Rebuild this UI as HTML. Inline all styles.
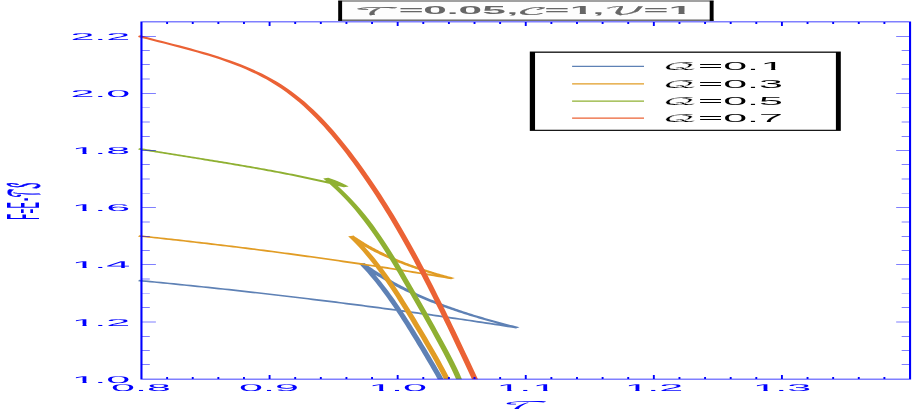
<!DOCTYPE html>
<html lang="en"><head><meta charset="utf-8"><title>F=E-TS vs T</title>
<style>html,body{margin:0;padding:0;background:#fff;overflow:hidden}svg{display:block}.s{font-family:"Liberation Sans","DejaVu Sans",sans-serif}.m{font-family:"DejaVu Math TeX Gyre","DejaVu Serif","Liberation Serif",serif}</style></head><body>
<svg width="913" height="409" viewBox="0 0 913 409"><rect width="913" height="409" fill="#fff"/><defs><clipPath id="c"><rect x="36.395" y="0" width="205.263" height="379.3"/></clipPath></defs><g transform="scale(3.8,1)" fill="none" stroke-width="1.56" stroke-linejoin="miter" stroke-miterlimit="3" stroke-linecap="butt" clip-path="url(#c)"><path stroke="#5E81B5" d="M36.447 280.5 L37.572 280.905 L38.696 281.312 L39.821 281.722 L40.945 282.135 L42.07 282.551 L43.194 282.97 L44.318 283.391 L45.442 283.815 L46.566 284.242 L47.69 284.672 L48.814 285.105 L49.937 285.541 L51.061 285.979 L52.185 286.421 L53.308 286.865 L54.432 287.312 L55.555 287.762 L56.678 288.214 L57.801 288.67 L58.924 289.128 L60.047 289.59 L61.17 290.054 L62.293 290.521 L63.416 290.991 L64.538 291.463 L65.661 291.939 L66.783 292.417 L67.906 292.899 L69.028 293.383 L70.15 293.87 L71.272 294.36 L72.394 294.853 L73.516 295.349 L74.638 295.848 L75.76 296.349 L76.882 296.854 L78.003 297.361 L79.125 297.871 L80.246 298.384 L81.367 298.9 L82.489 299.419 L83.61 299.941 L84.731 300.466 L85.852 300.994 L86.972 301.525 L88.093 302.058 L89.214 302.595 L90.334 303.134 L91.455 303.676 L92.575 304.222 L93.695 304.77 L94.815 305.321 L95.935 305.875 L97.055 306.432 L98.175 306.992 L99.295 307.555 L100.414 308.121 L101.534 308.69 L102.653 309.261 L103.772 309.836 L104.892 310.414 L106.011 310.994 L107.13 311.578 L108.249 312.165 L109.367 312.754 L110.486 313.347 L111.605 313.942 L112.723 314.541 L113.841 315.142 L114.96 315.747 L116.078 316.354 L117.196 316.964 L118.313 317.578 L119.431 318.194 L120.549 318.813 L121.666 319.436 L122.784 320.061 L123.901 320.689 L125.018 321.321 L126.136 321.955 L127.253 322.593 L128.369 323.233 L129.486 323.876 L130.603 324.523 L131.719 325.172 L132.836 325.825 L133.952 326.48 L135.068 327.139 L136.184 327.8 L135.701 327.338 L135.218 326.872 L134.735 326.404 L134.251 325.933 L133.768 325.458 L133.284 324.98 L132.801 324.499 L132.317 324.015 L131.833 323.526 L131.35 323.034 L130.866 322.539 L130.383 322.039 L129.899 321.535 L129.416 321.028 L128.933 320.515 L128.45 319.999 L127.967 319.478 L127.484 318.953 L127.002 318.423 L126.52 317.888 L126.038 317.348 L125.556 316.804 L125.075 316.254 L124.594 315.699 L124.113 315.139 L123.633 314.573 L123.153 314.002 L122.674 313.425 L122.195 312.843 L121.717 312.254 L121.239 311.66 L120.762 311.06 L120.285 310.453 L119.809 309.841 L119.334 309.222 L118.859 308.596 L118.384 307.964 L117.911 307.325 L117.438 306.68 L116.966 306.027 L116.494 305.368 L116.024 304.701 L115.554 304.027 L115.085 303.346 L114.617 302.658 L114.15 301.962 L113.683 301.258 L113.218 300.547 L112.753 299.827 L112.29 299.1 L111.827 298.365 L111.365 297.621 L110.905 296.87 L110.445 296.109 L109.987 295.341 L109.53 294.564 L109.073 293.778 L108.618 292.983 L108.164 292.18 L107.712 291.367 L107.26 290.545 L106.81 289.714 L106.361 288.874 L105.914 288.024 L105.467 287.165 L105.022 286.296 L104.579 285.417 L104.136 284.529 L103.695 283.63 L103.256 282.721 L102.818 281.802 L102.382 280.873 L101.947 279.934 L101.513 278.984 L101.081 278.023 L100.651 277.052 L100.222 276.07 L99.795 275.076 L99.37 274.072 L98.946 273.057 L98.524 272.03 L98.103 270.992 L97.685 269.943 L97.268 268.882 L96.853 267.809 L96.439 266.725 L96.028 265.629 L95.618 264.52 L95.211 263.4 L95.987 266.492 L96.74 269.585 L97.468 272.677 L98.173 275.769 L98.858 278.862 L99.523 281.954 L100.171 285.046 L100.801 288.138 L101.416 291.231 L102.018 294.323 L102.606 297.415 L103.182 300.508 L103.748 303.6 L104.304 306.692 L104.852 309.785 L105.391 312.877 L105.924 315.969 L106.45 319.062 L106.97 322.154 L107.485 325.246 L107.996 328.338 L108.503 331.431 L109.006 334.523 L109.506 337.615 L110.003 340.708 L110.497 343.8 L110.989 346.892 L111.478 349.985 L111.966 353.077 L112.45 356.169 L112.933 359.262 L113.412 362.354 L113.889 365.446 L114.363 368.538 L114.833 371.631 L115.3 374.723 L115.762 377.815 L116.22 380.908 L116.672 384"/><path stroke="#E19C24" d="M36.447 235.9 L37.381 236.268 L38.314 236.639 L39.247 237.012 L40.18 237.388 L41.112 237.766 L42.045 238.147 L42.978 238.531 L43.911 238.917 L44.843 239.305 L45.776 239.696 L46.708 240.09 L47.64 240.486 L48.573 240.885 L49.505 241.286 L50.437 241.689 L51.369 242.096 L52.301 242.504 L53.233 242.916 L54.164 243.33 L55.096 243.746 L56.028 244.165 L56.959 244.586 L57.891 245.01 L58.822 245.437 L59.753 245.866 L60.684 246.298 L61.615 246.732 L62.546 247.168 L63.477 247.608 L64.408 248.049 L65.339 248.494 L66.269 248.94 L67.2 249.39 L68.13 249.842 L69.061 250.296 L69.991 250.753 L70.921 251.212 L71.851 251.674 L72.781 252.139 L73.711 252.606 L74.641 253.076 L75.571 253.548 L76.501 254.023 L77.43 254.5 L78.36 254.98 L79.289 255.462 L80.218 255.947 L81.148 256.434 L82.077 256.924 L83.006 257.416 L83.935 257.911 L84.863 258.409 L85.792 258.909 L86.721 259.412 L87.649 259.917 L88.578 260.424 L89.506 260.935 L90.434 261.447 L91.362 261.963 L92.29 262.48 L93.218 263.001 L94.146 263.524 L95.074 264.049 L96.001 264.577 L96.929 265.107 L97.856 265.64 L98.784 266.176 L99.711 266.714 L100.638 267.255 L101.565 267.798 L102.492 268.344 L103.419 268.892 L104.345 269.443 L105.272 269.996 L106.198 270.552 L107.125 271.11 L108.051 271.671 L108.977 272.235 L109.903 272.801 L110.829 273.369 L111.755 273.94 L112.681 274.514 L113.606 275.09 L114.532 275.669 L115.457 276.25 L116.383 276.834 L117.308 277.42 L118.233 278.009 L119.158 278.6 L118.843 278.288 L118.528 277.973 L118.213 277.656 L117.898 277.336 L117.583 277.014 L117.268 276.69 L116.952 276.363 L116.637 276.033 L116.322 275.701 L116.007 275.366 L115.692 275.028 L115.376 274.687 L115.061 274.344 L114.746 273.997 L114.432 273.648 L114.117 273.296 L113.802 272.94 L113.488 272.582 L113.173 272.22 L112.859 271.855 L112.545 271.486 L112.231 271.115 L111.918 270.74 L111.604 270.361 L111.291 269.98 L110.978 269.594 L110.665 269.205 L110.353 268.813 L110.041 268.416 L109.729 268.016 L109.418 267.612 L109.106 267.205 L108.796 266.793 L108.485 266.378 L108.175 265.958 L107.865 265.535 L107.556 265.107 L107.247 264.676 L106.939 264.24 L106.631 263.8 L106.323 263.355 L106.016 262.907 L105.709 262.454 L105.403 261.996 L105.098 261.534 L104.793 261.068 L104.488 260.596 L104.184 260.121 L103.881 259.64 L103.578 259.155 L103.275 258.665 L102.974 258.17 L102.673 257.671 L102.372 257.166 L102.073 256.656 L101.774 256.142 L101.475 255.622 L101.177 255.097 L100.88 254.567 L100.584 254.032 L100.289 253.491 L99.994 252.945 L99.7 252.394 L99.407 251.837 L99.114 251.275 L98.822 250.707 L98.532 250.133 L98.242 249.554 L97.952 248.969 L97.664 248.379 L97.377 247.783 L97.09 247.18 L96.805 246.572 L96.52 245.958 L96.236 245.338 L95.953 244.712 L95.671 244.08 L95.39 243.442 L95.11 242.797 L94.831 242.147 L94.554 241.49 L94.277 240.826 L94.001 240.156 L93.726 239.48 L93.452 238.797 L93.18 238.108 L92.908 237.412 L92.638 236.709 L92.368 236 L93.393 239.795 L94.371 243.59 L95.307 247.385 L96.205 251.179 L97.066 254.974 L97.896 258.769 L98.696 262.564 L99.469 266.359 L100.218 270.154 L100.945 273.949 L101.654 277.744 L102.345 281.538 L103.021 285.333 L103.685 289.128 L104.336 292.923 L104.978 296.718 L105.611 300.513 L106.237 304.308 L106.857 308.103 L107.471 311.897 L108.081 315.692 L108.687 319.487 L109.289 323.282 L109.889 327.077 L110.485 330.872 L111.078 334.667 L111.668 338.462 L112.255 342.256 L112.838 346.051 L113.415 349.846 L113.988 353.641 L114.554 357.436 L115.112 361.231 L115.662 365.026 L116.202 368.821 L116.73 372.615 L117.244 376.41 L117.743 380.205 L118.224 384"/><path stroke="#8FB032" d="M36.447 148.7 L37.063 149.091 L37.678 149.481 L38.293 149.869 L38.908 150.256 L39.524 150.641 L40.139 151.026 L40.755 151.409 L41.371 151.791 L41.986 152.172 L42.602 152.552 L43.218 152.931 L43.833 153.31 L44.449 153.688 L45.065 154.065 L45.681 154.442 L46.297 154.818 L46.913 155.195 L47.529 155.57 L48.145 155.946 L48.761 156.322 L49.376 156.697 L49.992 157.073 L50.608 157.449 L51.224 157.825 L51.84 158.202 L52.456 158.579 L53.072 158.956 L53.688 159.334 L54.303 159.713 L54.919 160.092 L55.535 160.473 L56.15 160.854 L56.766 161.236 L57.381 161.619 L57.997 162.004 L58.612 162.389 L59.228 162.776 L59.843 163.165 L60.458 163.555 L61.073 163.946 L61.688 164.34 L62.303 164.735 L62.918 165.131 L63.533 165.53 L64.147 165.931 L64.762 166.334 L65.376 166.739 L65.991 167.146 L66.605 167.555 L67.219 167.967 L67.833 168.382 L68.446 168.799 L69.06 169.218 L69.674 169.641 L70.287 170.066 L70.9 170.494 L71.513 170.925 L72.126 171.36 L72.739 171.797 L73.352 172.238 L73.964 172.682 L74.576 173.129 L75.188 173.58 L75.8 174.034 L76.412 174.492 L77.024 174.954 L77.635 175.42 L78.246 175.89 L78.857 176.363 L79.468 176.841 L80.078 177.323 L80.688 177.809 L81.298 178.299 L81.908 178.794 L82.518 179.293 L83.127 179.797 L83.736 180.305 L84.345 180.818 L84.954 181.336 L85.562 181.859 L86.171 182.387 L86.779 182.92 L87.386 183.458 L87.994 184.002 L88.601 184.55 L89.207 185.105 L89.814 185.664 L90.42 186.229 L91.026 186.8 L90.97 186.682 L90.914 186.564 L90.857 186.447 L90.801 186.331 L90.744 186.215 L90.688 186.099 L90.631 185.984 L90.575 185.869 L90.518 185.755 L90.461 185.642 L90.404 185.529 L90.347 185.417 L90.29 185.305 L90.233 185.193 L90.176 185.082 L90.119 184.972 L90.062 184.862 L90.005 184.753 L89.947 184.644 L89.89 184.535 L89.832 184.427 L89.775 184.32 L89.717 184.213 L89.66 184.107 L89.602 184.001 L89.544 183.896 L89.487 183.791 L89.429 183.687 L89.371 183.583 L89.313 183.48 L89.255 183.377 L89.197 183.275 L89.139 183.174 L89.08 183.072 L89.022 182.972 L88.964 182.872 L88.905 182.772 L88.847 182.673 L88.789 182.574 L88.73 182.476 L88.671 182.379 L88.613 182.282 L88.554 182.185 L88.495 182.089 L88.436 181.994 L88.377 181.899 L88.318 181.804 L88.259 181.71 L88.2 181.617 L88.141 181.524 L88.082 181.431 L88.023 181.339 L87.964 181.248 L87.904 181.157 L87.845 181.067 L87.785 180.977 L87.726 180.888 L87.666 180.799 L87.606 180.71 L87.547 180.623 L87.487 180.535 L87.427 180.449 L87.367 180.362 L87.307 180.277 L87.247 180.191 L87.187 180.107 L87.127 180.022 L87.067 179.939 L87.007 179.856 L86.946 179.773 L86.886 179.691 L86.826 179.609 L86.765 179.528 L86.705 179.447 L86.644 179.367 L86.583 179.288 L86.523 179.209 L86.462 179.13 L86.401 179.052 L86.34 178.975 L86.279 178.898 L86.218 178.821 L86.157 178.745 L86.096 178.67 L86.035 178.595 L85.974 178.52 L85.912 178.446 L85.851 178.373 L85.789 178.3 L87.42 183.574 L88.943 188.849 L90.377 194.123 L91.729 199.397 L93.007 204.672 L94.218 209.946 L95.369 215.221 L96.466 220.495 L97.514 225.769 L98.52 231.044 L99.489 236.318 L100.425 241.592 L101.333 246.867 L102.217 252.141 L103.081 257.415 L103.929 262.69 L104.763 267.964 L105.586 273.238 L106.4 278.513 L107.208 283.787 L108.011 289.062 L108.81 294.336 L109.606 299.61 L110.4 304.885 L111.192 310.159 L111.982 315.433 L112.769 320.708 L113.552 325.982 L114.331 331.256 L115.103 336.531 L115.867 341.805 L116.619 347.079 L117.359 352.354 L118.082 357.628 L118.785 362.903 L119.464 368.177 L120.115 373.451 L120.735 378.726 L121.317 384"/><path stroke="#EB6235" d="M36.395 35.9 L37.825 37.349 L39.266 38.781 L40.717 40.203 L42.177 41.622 L43.645 43.044 L45.117 44.475 L46.594 45.923 L48.073 47.393 L49.554 48.893 L51.034 50.428 L52.512 52.005 L53.987 53.63 L55.457 55.311 L56.921 57.052 L58.377 58.862 L59.824 60.747 L61.26 62.712 L62.683 64.765 L64.093 66.911 L65.488 69.158 L66.866 71.512 L68.225 73.979 L69.565 76.566 L70.884 79.279 L72.18 82.125 L73.452 85.11 L74.698 88.239 L75.92 91.509 L77.117 94.913 L78.29 98.444 L79.441 102.096 L80.569 105.862 L81.676 109.736 L82.762 113.71 L83.828 117.779 L84.875 121.935 L85.904 126.173 L86.915 130.484 L87.91 134.864 L88.888 139.305 L89.85 143.801 L90.798 148.345 L91.732 152.93 L92.653 157.55 L93.562 162.2 L94.458 166.876 L95.343 171.578 L96.216 176.306 L97.078 181.059 L97.929 185.836 L98.769 190.636 L99.599 195.46 L100.419 200.306 L101.229 205.174 L102.029 210.062 L102.821 214.971 L103.603 219.899 L104.376 224.847 L105.142 229.812 L105.899 234.796 L106.648 239.796 L107.39 244.812 L108.124 249.845 L108.851 254.892 L109.572 259.953 L110.286 265.029 L110.995 270.117 L111.697 275.217 L112.394 280.329 L113.085 285.453 L113.772 290.586 L114.453 295.729 L115.13 300.881 L115.804 306.042 L116.473 311.21 L117.138 316.385 L117.801 321.567 L118.46 326.754 L119.116 331.946 L119.77 337.143 L120.422 342.343 L121.072 347.547 L121.721 352.753 L122.368 357.96 L123.014 363.169 L123.659 368.377 L124.303 373.586 L124.948 378.794 L125.592 384"/></g><g transform="scale(3.8,1)" fill="none" stroke="#0000ff"><path stroke="none" fill="#0000ff" fill-rule="evenodd" d="M36.947 21.45 H239.763 V379.55 H36.947 Z M37.5 22.2 H239.211 V378.8 H37.5 Z"/><path stroke-width="0.5" d="M43.978 379.1 v-2 M43.978 21.9 v2 M50.719 379.1 v-2 M50.719 21.9 v2 M57.461 379.1 v-2 M57.461 21.9 v2 M64.202 379.1 v-2 M64.202 21.9 v2 M70.943 379.1 v-4 M70.943 21.9 v4 M77.685 379.1 v-2 M77.685 21.9 v2 M84.426 379.1 v-2 M84.426 21.9 v2 M91.167 379.1 v-2 M91.167 21.9 v2 M97.909 379.1 v-2 M97.909 21.9 v2 M104.65 379.1 v-4 M104.65 21.9 v4 M111.391 379.1 v-2 M111.391 21.9 v2 M118.133 379.1 v-2 M118.133 21.9 v2 M124.874 379.1 v-2 M124.874 21.9 v2 M131.615 379.1 v-2 M131.615 21.9 v2 M138.357 379.1 v-4 M138.357 21.9 v4 M145.098 379.1 v-2 M145.098 21.9 v2 M151.839 379.1 v-2 M151.839 21.9 v2 M158.581 379.1 v-2 M158.581 21.9 v2 M165.322 379.1 v-2 M165.322 21.9 v2 M172.063 379.1 v-4 M172.063 21.9 v4 M178.804 379.1 v-2 M178.804 21.9 v2 M185.546 379.1 v-2 M185.546 21.9 v2 M192.287 379.1 v-2 M192.287 21.9 v2 M199.028 379.1 v-2 M199.028 21.9 v2 M205.77 379.1 v-4 M205.77 21.9 v4 M212.511 379.1 v-2 M212.511 21.9 v2 M219.252 379.1 v-2 M219.252 21.9 v2 M225.994 379.1 v-2 M225.994 21.9 v2 M232.735 379.1 v-2 M232.735 21.9 v2"/><path stroke-width="0.46" d="M37.237 364.812 h2.184 M239.487 364.812 h-2.211 M37.237 350.525 h2.184 M239.487 350.525 h-2.211 M37.237 336.238 h2.184 M239.487 336.238 h-2.211 M37.237 321.95 h3.789 M239.487 321.95 h-3.658 M37.237 307.663 h2.184 M239.487 307.663 h-2.211 M37.237 293.375 h2.184 M239.487 293.375 h-2.211 M37.237 279.088 h2.184 M239.487 279.088 h-2.211 M37.237 264.8 h3.789 M239.487 264.8 h-3.658 M37.237 250.513 h2.184 M239.487 250.513 h-2.211 M37.237 236.225 h2.184 M239.487 236.225 h-2.211 M37.237 221.938 h2.184 M239.487 221.938 h-2.211 M37.237 207.65 h3.789 M239.487 207.65 h-3.658 M37.237 193.363 h2.184 M239.487 193.363 h-2.211 M37.237 179.075 h2.184 M239.487 179.075 h-2.211 M37.237 164.788 h2.184 M239.487 164.788 h-2.211 M37.237 150.5 h3.789 M239.487 150.5 h-3.658 M37.237 136.213 h2.184 M239.487 136.213 h-2.211 M37.237 121.925 h2.184 M239.487 121.925 h-2.211 M37.237 107.638 h2.184 M239.487 107.638 h-2.211 M37.237 93.35 h3.789 M239.487 93.35 h-3.658 M37.237 79.063 h2.184 M239.487 79.063 h-2.211 M37.237 64.775 h2.184 M239.487 64.775 h-2.211 M37.237 50.488 h2.184 M239.487 50.488 h-2.211 M37.237 36.2 h3.789 M239.487 36.2 h-3.658"/></g><g text-rendering="geometricPrecision"><g transform="translate(70.385,382.7) scale(4.31,0.985)"><text class="s" font-size="10" fill="#0000ff"><tspan dx="0.33">1</tspan><tspan dx="-0.33">.</tspan>0</text><rect x="0.49" y="-1.9" width="2.3" height="2.4" fill="#fff"/><rect x="3.79" y="-1.9" width="2.1" height="2.4" fill="#fff"/></g><g transform="translate(70.385,325.55) scale(4.31,0.985)"><text class="s" font-size="10" fill="#0000ff"><tspan dx="0.33">1</tspan><tspan dx="-0.33">.</tspan>2</text><rect x="0.49" y="-1.9" width="2.3" height="2.4" fill="#fff"/><rect x="3.79" y="-1.9" width="2.1" height="2.4" fill="#fff"/></g><g transform="translate(70.385,268.4) scale(4.31,0.985)"><text class="s" font-size="10" fill="#0000ff"><tspan dx="0.33">1</tspan><tspan dx="-0.33">.</tspan>4</text><rect x="0.49" y="-1.9" width="2.3" height="2.4" fill="#fff"/><rect x="3.79" y="-1.9" width="2.1" height="2.4" fill="#fff"/></g><g transform="translate(70.385,211.25) scale(4.31,0.985)"><text class="s" font-size="10" fill="#0000ff"><tspan dx="0.33">1</tspan><tspan dx="-0.33">.</tspan>6</text><rect x="0.49" y="-1.9" width="2.3" height="2.4" fill="#fff"/><rect x="3.79" y="-1.9" width="2.1" height="2.4" fill="#fff"/></g><g transform="translate(70.385,154.1) scale(4.31,0.985)"><text class="s" font-size="10" fill="#0000ff"><tspan dx="0.33">1</tspan><tspan dx="-0.33">.</tspan>8</text><rect x="0.49" y="-1.9" width="2.3" height="2.4" fill="#fff"/><rect x="3.79" y="-1.9" width="2.1" height="2.4" fill="#fff"/></g><g transform="translate(70.385,96.95) scale(4.31,0.985)"><text class="s" font-size="10" fill="#0000ff">2.0</text></g><g transform="translate(70.385,39.8) scale(4.31,0.985)"><text class="s" font-size="10" fill="#0000ff">2.2</text></g><g transform="translate(110.942,391.3) scale(4.31,0.985)"><text class="s" font-size="10" fill="#0000ff">0.8</text></g><g transform="translate(239.027,391.3) scale(4.31,0.985)"><text class="s" font-size="10" fill="#0000ff">0.9</text></g><g transform="translate(367.112,391.3) scale(4.31,0.985)"><text class="s" font-size="10" fill="#0000ff"><tspan dx="0.33">1</tspan><tspan dx="-0.33">.</tspan>0</text><rect x="0.49" y="-1.9" width="2.3" height="2.4" fill="#fff"/><rect x="3.79" y="-1.9" width="2.1" height="2.4" fill="#fff"/></g><g transform="translate(495.197,391.3) scale(4.31,0.985)"><text class="s" font-size="10" fill="#0000ff"><tspan dx="0.33">1</tspan><tspan dx="-0.33">.</tspan><tspan dx="0.33">1</tspan></text><rect x="0.49" y="-1.9" width="2.3" height="2.4" fill="#fff"/><rect x="3.79" y="-1.9" width="2.1" height="2.4" fill="#fff"/><rect x="8.83" y="-1.9" width="2.3" height="2.4" fill="#fff"/><rect x="12.13" y="-1.9" width="2.1" height="2.4" fill="#fff"/></g><g transform="translate(623.282,391.3) scale(4.31,0.985)"><text class="s" font-size="10" fill="#0000ff"><tspan dx="0.33">1</tspan><tspan dx="-0.33">.</tspan>2</text><rect x="0.49" y="-1.9" width="2.3" height="2.4" fill="#fff"/><rect x="3.79" y="-1.9" width="2.1" height="2.4" fill="#fff"/></g><g transform="translate(751.367,391.3) scale(4.31,0.985)"><text class="s" font-size="10" fill="#0000ff"><tspan dx="0.33">1</tspan><tspan dx="-0.33">.</tspan>3</text><rect x="0.49" y="-1.9" width="2.3" height="2.4" fill="#fff"/><rect x="3.79" y="-1.9" width="2.1" height="2.4" fill="#fff"/></g></g><text class="m" transform="translate(498.373,409.764) skewX(-36) scale(4.409,1.182)" font-size="10" fill="#0000ff">𝒯</text><text class="s" transform="translate(39.3,219.6) rotate(-90) scale(0.96,4.56)" font-size="10" fill="#0000ff"><tspan x="-0.195">F</tspan><tspan x="6.589" font-size="8">=</tspan><tspan x="11.472">E</tspan><tspan x="19.348">-</tspan><tspan class="m" font-size="9" x="23.03" stroke="#0000ff" stroke-width="0.25">𝒯</tspan><tspan class="m" font-size="9" x="31.78" stroke="#0000ff" stroke-width="0.25">𝒮</tspan></text><rect x="529.8" y="51.55" width="311" height="79.35" fill="#000"/><rect x="535.05" y="52.8" width="300.85" height="76.95" fill="#fff"/><line x1="572.1" x2="644" y1="66.3" y2="66.3" stroke="#5E81B5" stroke-width="1.25"/><g transform="translate(662.336,70) scale(4.3,1.06)"><text class="s" font-size="10" fill="#000"><tspan class="m" font-size="10.07" stroke="#fff" stroke-width="0.15">𝒬</tspan><tspan x="8.317">=0.</tspan><tspan dx="0.33">1</tspan></text><rect x="22.987" y="-1.9" width="2.3" height="2.4" fill="#fff"/><rect x="26.287" y="-1.9" width="2.1" height="2.4" fill="#fff"/></g><line x1="572.1" x2="644" y1="83.8" y2="83.8" stroke="#E19C24" stroke-width="1.25"/><g transform="translate(662.336,87.5) scale(4.3,1.06)"><text class="s" font-size="10" fill="#000"><tspan class="m" font-size="10.07" stroke="#fff" stroke-width="0.15">𝒬</tspan><tspan x="8.317">=0.</tspan>3</text></g><line x1="572.1" x2="644" y1="101" y2="101" stroke="#8FB032" stroke-width="1.25"/><g transform="translate(662.336,104.7) scale(4.3,1.06)"><text class="s" font-size="10" fill="#000"><tspan class="m" font-size="10.07" stroke="#fff" stroke-width="0.15">𝒬</tspan><tspan x="8.317">=0.</tspan>5</text></g><line x1="572.1" x2="644" y1="118" y2="118" stroke="#EB6235" stroke-width="1.25"/><g transform="translate(662.336,121.7) scale(4.3,1.06)"><text class="s" font-size="10" fill="#000"><tspan class="m" font-size="10.07" stroke="#fff" stroke-width="0.15">𝒬</tspan><tspan x="8.317">=0.</tspan>7</text></g><g><rect x="338.2" y="-2" width="375.4" height="22.4" fill="#fdfdfd"/><rect x="338.2" y="0" width="375.4" height="2" fill="#a0a0a0"/><rect x="338.2" y="19.5" width="375.4" height="1.4" fill="#606060"/><rect x="338.2" y="0.8" width="3.9" height="20.1" fill="#000"/><rect x="709.7" y="0.8" width="3.9" height="20.1" fill="#000"/><g transform="translate(0,14.35) scale(4.25,1.04)"><text class="s" font-size="10" font-weight="bold" fill="#666"><tspan class="m" font-weight="normal" font-size="10.6" x="83.317" y="0.817" stroke="#666" stroke-width="0.2">𝒯</tspan><tspan x="93.844" y="0">=</tspan><tspan x="99.581">0</tspan><tspan x="105.109">.</tspan><tspan x="107.91">05</tspan><tspan x="119.156">,</tspan><tspan class="m" font-weight="normal" font-size="10" x="121.671" y="0.24" stroke="#666" stroke-width="0.2">𝒞</tspan><tspan x="128.15" y="0">=</tspan><tspan x="134.106">1</tspan><tspan x="139.439">,</tspan><tspan class="m" font-weight="normal" font-size="10.4" x="141.968" y="-0.433" stroke="#666" stroke-width="0.2">𝒱</tspan><tspan x="151.397" y="0">=</tspan><tspan x="157.329">1</tspan></text><rect x="134.206" y="-2.5" width="2.2" height="3" fill="#fdfdfd"/><rect x="137.866" y="-2.5" width="1.9" height="3" fill="#fdfdfd"/><rect x="157.429" y="-2.5" width="2.2" height="3" fill="#fdfdfd"/><rect x="161.089" y="-2.5" width="1.9" height="3" fill="#fdfdfd"/></g></g></svg></body></html>
